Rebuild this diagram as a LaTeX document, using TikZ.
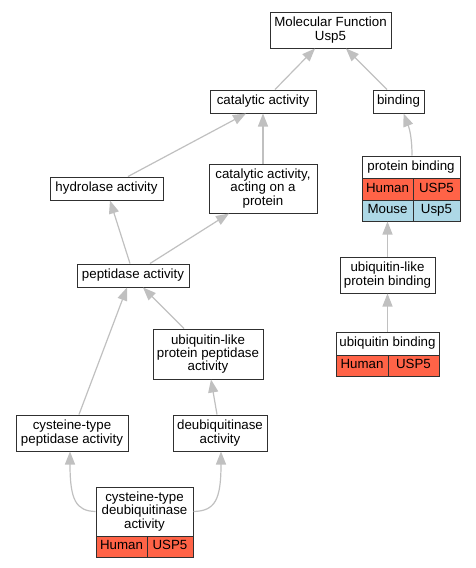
\documentclass[tikz,border=0pt]{standalone}
\usepackage{fontspec}
\setmainfont{Liberation Sans}
\usetikzlibrary{arrows.meta,calc}
\definecolor{edgegray}{HTML}{C0C0C0}
\definecolor{boxline}{HTML}{303030}
\definecolor{humanred}{HTML}{FF6347}
\definecolor{mouseblue}{HTML}{ADD8E6}
\tikzset{
  gobox/.style={draw=boxline, line width=1pt, fill=white, inner sep=0pt, align=center,
    font=\fontsize{13.3}{13.3}\selectfont, text=black},
  humancell/.style={gobox, fill=humanred, text height=9.6pt, text depth=2.8pt},
  mousecell/.style={gobox, fill=mouseblue, text height=9.6pt, text depth=2.8pt},
  isa/.style={draw=edgegray, line width=1.2pt, -{Triangle[length=13pt,width=10pt,fill=edgegray]}},
}
\begin{document}
\begin{tikzpicture}[x=1pt,y=-1pt]
\useasboundingbox (0,0) rectangle (475,568);
% nodes
\node[gobox, minimum width=121pt, minimum height=36pt] (mf) at (330.5,30) {Molecular Function\\Usp5};
\node[gobox, minimum width=106pt, minimum height=23pt] (cat) at (263,101.5) {catalytic activity};
\node[gobox, minimum width=51pt, minimum height=23pt] (bind) at (398.5,101.5) {binding};
\node[gobox, minimum width=113pt, minimum height=23pt] (hyd) at (106.5,188.5) {hydrolase activity};
\node[gobox, minimum width=108pt, minimum height=49pt] (catp) at (263,188.5) {catalytic activity,\\acting on a\\protein};
% protein binding table
\node[gobox, minimum width=98pt, minimum height=22pt] (pb) at (411,167) {protein binding};
\node[humancell, minimum width=51pt, minimum height=22pt] (pbh) at (387.5,189) {Human};
\node[humancell, minimum width=47pt, minimum height=22pt] (pbhg) at (436.5,189) {USP5};
\node[mousecell, minimum width=51pt, minimum height=21pt] (pbm) at (387.5,210.5) {Mouse};
\node[mousecell, minimum width=47pt, minimum height=21pt] (pbmg) at (436.5,210.5) {Usp5};
\node[gobox, minimum width=112pt, minimum height=23pt] (pep) at (133,275.5) {peptidase activity};
\node[gobox, minimum width=95pt, minimum height=36pt] (ublb) at (387.5,275) {ubiquitin-like\\protein binding};
\node[gobox, minimum width=110pt, minimum height=50pt] (ublp) at (208,354) {ubiquitin-like\\protein peptidase\\activity};
% ubiquitin binding table
\node[gobox, minimum width=103pt, minimum height=23pt] (ubb) at (387.5,343.5) {ubiquitin binding};
\node[humancell, minimum width=52pt, minimum height=21pt] (ubbh) at (362,365.5) {Human};
\node[humancell, minimum width=51pt, minimum height=21pt] (ubbg) at (413.5,365.5) {USP5};
\node[gobox, minimum width=112pt, minimum height=36pt] (ctp) at (72,433) {cysteine-type\\peptidase activity};
\node[gobox, minimum width=94pt, minimum height=36pt] (deub) at (220,433) {deubiquitinase\\activity};
% cysteine-type deubiquitinase table
\node[gobox, minimum width=97pt, minimum height=49pt] (ctd) at (144.5,511.5) {cysteine-type\\deubiquitinase\\activity};
\node[humancell, minimum width=51pt, minimum height=21pt] (ctdh) at (121.5,546.5) {Human};
\node[humancell, minimum width=46pt, minimum height=21pt] (ctdg) at (170,546.5) {USP5};
% edges
\draw[isa] ([xshift=12pt]cat.north) -- ([xshift=-15.5pt]mf.south);
\draw[isa] ([xshift=-11.5pt]bind.north) -- ([xshift=15.5pt]mf.south);
\draw[isa] ([xshift=21.5pt]hyd.north) -- ([xshift=-17pt]cat.south);
\draw[isa] (catp.north) -- (cat.south);
\draw[isa] ([xshift=1pt]pb.north) .. controls (412,140) and (410,130) .. ([xshift=5pt]bind.south);
\draw[isa] ([xshift=-3pt]pep.north) -- ([xshift=3.5pt]hyd.south);
\draw[isa] ([xshift=17pt]pep.north) -- ([xshift=-34pt]catp.south);
\draw[isa] (ublb.north) -- (pbm.south);
\draw[isa] ([xshift=7pt]ctp.north) -- ([xshift=-6pt]pep.south);
\draw[isa] ([xshift=-24pt]ublp.north) -- ([xshift=10pt]pep.south);
\draw[isa] (ubb.north) -- (ublb.south);
\draw[isa] ([xshift=-3pt]deub.north) -- ([xshift=3pt]ublp.south);
\draw[isa] (ctd.west) .. controls (76,511) and (70,500) .. ([xshift=-2pt]ctp.south);
\draw[isa] (ctd.east) .. controls (215,511) and (221,500) .. ([xshift=1pt]deub.south);
\end{tikzpicture}
\end{document}
